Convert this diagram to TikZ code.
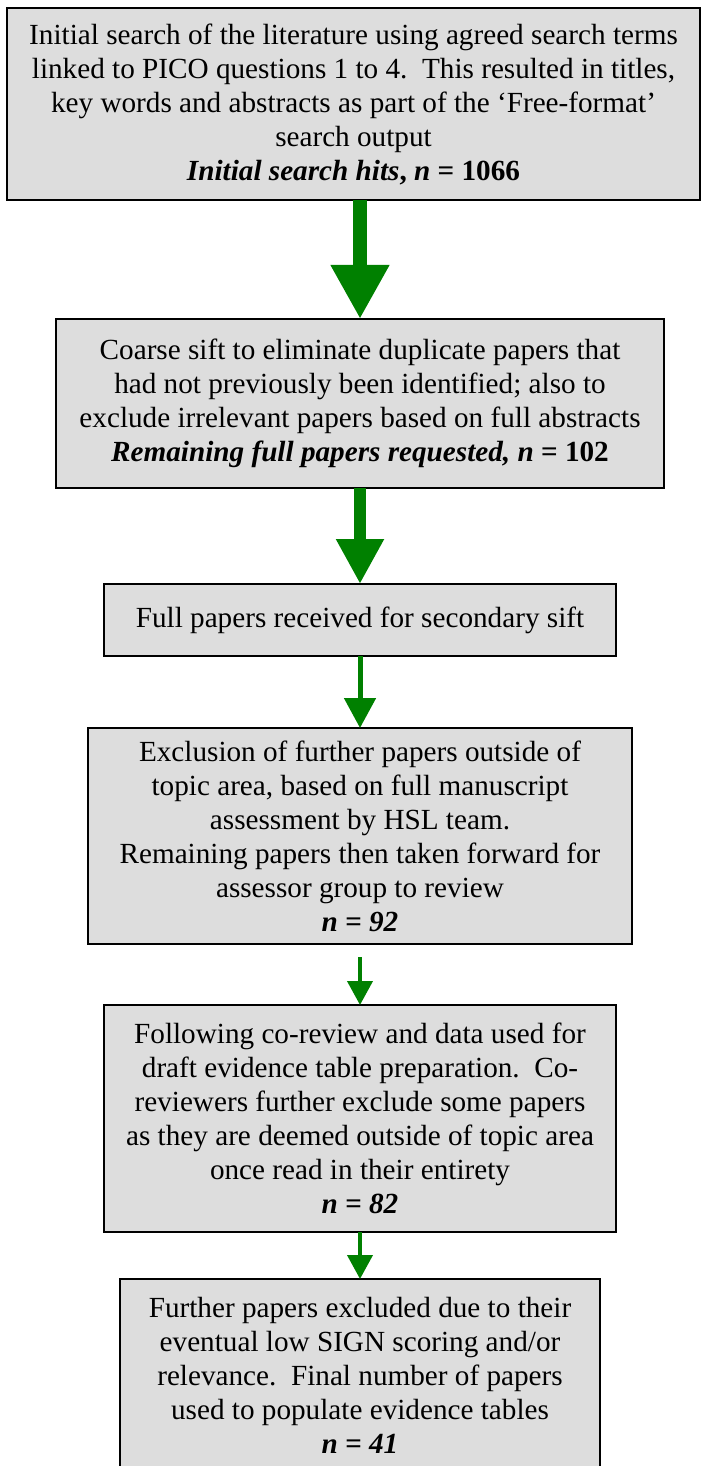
\documentclass[tikz,border=0pt]{standalone}
\usepackage{fontspec}
\setmainfont{Liberation Serif}
\usepackage{tikz}
\usetikzlibrary{arrows.meta,positioning}
\definecolor{sift-green}{HTML}{008000}
\definecolor{sift-grey}{HTML}{DDDDDD}

\begin{document}
\begin{tikzpicture}[
  stage/.style={
    rectangle, draw=black, line width=1pt, fill=sift-grey,
    align=center, inner sep=0pt, outer sep=0pt,
    font=\fontsize{14.6pt}{17pt}\selectfont
  },
  flow/.style={
    draw=sift-green, line width=#1
  },
  flow/.default=2pt
]
\useasboundingbox (0,0) rectangle (350.5pt,-733pt);

%% Search stages
\node[stage, minimum width=346.5pt, minimum height=96pt] (search) at (176.75pt,-52pt)
  {Initial search of the literature using agreed search terms\\
   linked to PICO questions 1 to 4.\ \ This resulted in titles,\\
   key words and abstracts as part of the ‘Free-format’\\
   search output\\
   \textbf{\textit{Initial search hits}, \textit{n} = 1066}};
\node[stage, minimum width=304pt, minimum height=84.5pt, below=59.5pt of search, xshift=3.25pt] (coarse)
  {Coarse sift to eliminate duplicate papers that\\
   had not previously been identified; also to\\
   exclude irrelevant papers based on full abstracts\\
   \textbf{\textit{Remaining full papers requested, n} = 102}};
\node[stage, minimum width=256pt, minimum height=36pt, below=48pt of coarse] (received)
  {Full papers received for secondary sift};
\node[stage, minimum width=272pt, minimum height=108pt, below=36pt of received] (hsl)
  {Exclusion of further papers outside of\\
   topic area, based on full manuscript\\
   assessment by HSL team.\\
   Remaining papers then taken forward for\\
   assessor group to review\\
   \textbf{\textit{n = 92}}};
\node[stage, minimum width=256pt, minimum height=113.5pt, below=30.5pt of hsl] (coreview)
  {Following co-review and data used for\\
   draft evidence table preparation.\ \ Co-\\
   reviewers further exclude some papers\\
   as they are deemed outside of topic area\\
   once read in their entirety\\
   \textbf{\textit{n = 82}}};
\node[stage, minimum width=240pt, minimum height=96pt, below=23.5pt of coreview] (final)
  {Further papers excluded due to their\\
   eventual low SIGN scoring and/or\\
   relevance.\ \ Final number of papers\\
   used to populate evidence tables\\
   \textbf{\textit{n = 41}}};

%% Arrows
\draw[flow=7pt, -{Triangle[width=27.5pt,length=27pt]}] (coarse.north |- search.south) -- (coarse);
\draw[flow=6pt, -{Triangle[width=22.5pt,length=22.5pt]}] (coarse) -- (received);
\draw[flow=2.5pt, -{Triangle[width=15.5pt,length=15pt]}] (received) -- (hsl);
\draw[flow=2pt, -{Triangle[width=12.5pt,length=12pt]}, shorten <=6.5pt] (hsl) -- (coreview);
\draw[flow=2pt, -{Triangle[width=12.5pt,length=12pt]}] (coreview) -- (final);

\end{tikzpicture}
\end{document}
